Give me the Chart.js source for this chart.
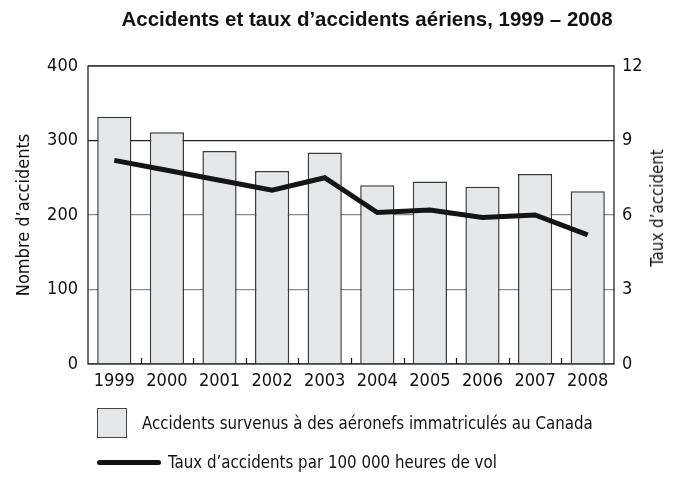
<!DOCTYPE html>
<html lang="fr">
<head>
<meta charset="utf-8">
<script src="https://cdn.jsdelivr.net/npm/chart.js@4.4.1/dist/chart.umd.min.js"></script>
<style>
  body{margin:0;background:#fff;}
  #wrap{position:relative;width:676px;height:477px;font-family:"DejaVu Sans Condensed","DejaVu Sans",sans-serif;font-stretch:condensed;color:#111;}
  #titre{position:absolute;left:0;top:7px;width:676px;padding-left:58px;box-sizing:border-box;text-align:center;font:bold 20.5px "Liberation Sans",Arial,sans-serif;}
  .leg{position:absolute;font-size:18px;line-height:22px;white-space:nowrap;transform:scaleX(0.93);transform-origin:left center;}
  .boite{position:absolute;left:97px;top:408px;width:28px;height:28px;background:#e6e7e9;border:1.5px solid #444;}
  .trait{position:absolute;left:97px;top:460px;width:64px;height:5px;background:#111;border-radius:3px;}
  #titreDroite{position:absolute;left:657px;top:208px;font-size:18px;line-height:22px;white-space:nowrap;transform:translate(-50%,-50%) rotate(-90deg) scaleX(0.93);}
</style>
</head>
<body>
<div id="wrap">
  <canvas id="graphique" width="676" height="477"></canvas>
  <div id="titre">Accidents et taux d’accidents aériens, 1999 – 2008</div>
  <div id="titreDroite">Taux d’accident</div>
  <div class="boite"></div>
  <div class="leg" style="left:142px;top:412px;">Accidents survenus à des aéronefs immatriculés au Canada</div>
  <div class="trait"></div>
  <div class="leg" style="left:168px;top:451px;">Taux d’accidents par 100 000 heures de vol</div>
</div>
<script>
// données
const annees=['1999','2000','2001','2002','2003','2004','2005','2006','2007','2008'];
const accidents=[332,311,286,259,284,240,245,238,255,232];
const tauxAccidents=[8.2,7.8,7.4,7.0,7.5,6.1,6.2,5.9,6.0,5.2];
const maxGauche=400, pasGauche=100;
const maxDroite=12, pasDroite=3;

const policeTicks={family:'"DejaVu Sans Condensed","DejaVu Sans",sans-serif',size:18};

// cadre du graphique + petites marques entre les années
const cadrePlugin={
  id:'cadre',
  afterDatasetsDraw(chart){
    const {ctx,chartArea:a,scales}=chart;
    ctx.save();
    ctx.strokeStyle='#111';
    ctx.lineWidth=1.2;
    const x=scales.x;
    ctx.beginPath();
    for(let i=0;i<annees.length-1;i++){
      const px=(x.getPixelForValue(i)+x.getPixelForValue(i+1))/2;
      ctx.moveTo(Math.round(px)+0.5,a.bottom);
      ctx.lineTo(Math.round(px)+0.5,a.bottom-6);
    }
    ctx.stroke();
    ctx.strokeRect(a.left,a.top,a.right-a.left,a.bottom-a.top);
    ctx.restore();
  }
};

new Chart(document.getElementById('graphique'),{
  type:'bar',
  data:{
    labels:annees,
    datasets:[
      {
        type:'line',
        label:'Taux d’accidents par 100 000 heures de vol',
        data:tauxAccidents,
        yAxisID:'y1',
        borderColor:'#151515',
        borderWidth:5,
        pointRadius:0,
        tension:0,
        order:0
      },
      {
        label:'Accidents survenus à des aéronefs immatriculés au Canada',
        data:accidents,
        yAxisID:'y',
        backgroundColor:'#e6e7e9',
        borderColor:'#3a3a3a',
        borderWidth:1.5,
        categoryPercentage:0.65,
        barPercentage:1,
        order:1
      }
    ]
  },
  options:{
    responsive:false,
    animation:false,
    devicePixelRatio:1,
    layout:{padding:{top:66,left:0,right:0,bottom:0}},
    plugins:{legend:{display:false},title:{display:false},tooltip:{enabled:false}},
    scales:{
      x:{
        grid:{display:false,drawTicks:false},
        border:{display:false},
        ticks:{color:'#111',font:policeTicks,padding:7,maxRotation:0},
        afterFit(s){s.height=113;}
      },
      y:{
        position:'left',
        min:0,max:maxGauche,
        ticks:{stepSize:pasGauche,color:'#111',font:policeTicks,padding:10},
        grid:{drawTicks:false,color:c=>c.tick&&c.tick.value===300?'#222':'#8a8a8a',lineWidth:1.2},
        border:{display:false},
        title:{display:true,text:'Nombre d’accidents',color:'#111',font:policeTicks,padding:{top:14,bottom:0}},
        afterFit(s){s.width=88;}
      },
      y1:{
        position:'right',
        min:0,max:maxDroite,
        ticks:{stepSize:pasDroite,color:'#111',font:policeTicks,padding:8},
        grid:{drawOnChartArea:false,drawTicks:false},
        border:{display:false},
        title:{display:false},
        afterFit(s){s.width=62;}
      }
    }
  },
  plugins:[cadrePlugin]
});
</script>
</body>
</html>
